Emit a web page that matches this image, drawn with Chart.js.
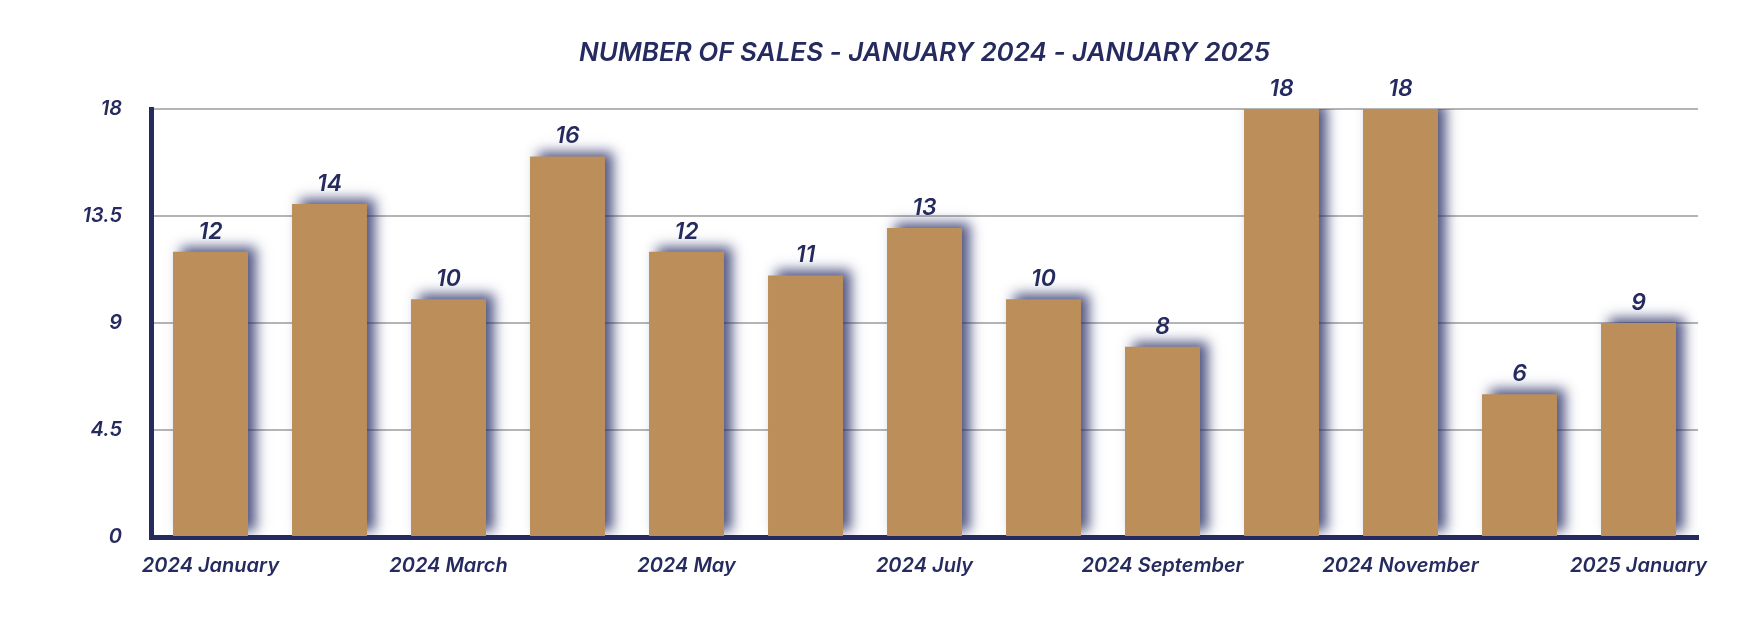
<!DOCTYPE html>
<html>
<head>
<meta charset="utf-8">
<script src="https://cdn.jsdelivr.net/npm/chart.js@4.4.1/dist/chart.umd.min.js"></script>
<style>
  html, body { margin: 0; padding: 0; background: #ffffff; }
  #wrap { width: 1764px; height: 628px; position: relative; }
</style>
</head>
<body>
<div id="wrap"><canvas id="c" width="1764" height="628"></canvas></div>
<script>
const titleText = "NUMBER OF SALES - JANUARY 2024 - JANUARY 2025";
const categories = [
  "2024 January", "2024 February", "2024 March", "2024 April", "2024 May",
  "2024 June", "2024 July", "2024 August", "2024 September", "2024 October",
  "2024 November", "2024 December", "2025 January"
];
const sales = [12, 14, 10, 16, 12, 11, 13, 10, 8, 18, 18, 6, 9];
const yTicks = [0, 4.5, 9, 13.5, 18];

const NAVY = "#262b5f";
const GOLD = "#bc8f5a";
const FONT = "Inter";

const shadowPlugin = {
  id: "barShadow",
  beforeDatasetsDraw(chart) {
    const ctx = chart.ctx;
    ctx.save();
    ctx.shadowColor = "rgba(38, 44, 100, 0.8)";
    ctx.shadowBlur = 12;
    ctx.shadowOffsetX = 8;
    ctx.shadowOffsetY = -5;
  },
  afterDatasetsDraw(chart) {
    chart.ctx.restore();
  }
};

const valueLabelPlugin = {
  id: "valueLabels",
  afterDatasetsDraw(chart) {
    const ctx = chart.ctx;
    const meta = chart.getDatasetMeta(0);
    ctx.save();
    ctx.fillStyle = NAVY;
    ctx.font = "italic 600 23px " + FONT;
    ctx.textAlign = "center";
    ctx.textBaseline = "middle";
    meta.data.forEach((bar, i) => {
      ctx.fillText(String(chart.data.datasets[0].data[i]), bar.x, bar.y - 20);
    });
    ctx.restore();
  }
};

const titlePlugin = {
  id: "centeredTitle",
  afterDraw(chart) {
    const ctx = chart.ctx;
    const a = chart.chartArea;
    ctx.save();
    ctx.fillStyle = NAVY;
    ctx.font = "italic 600 26px " + FONT;
    ctx.textAlign = "center";
    ctx.textBaseline = "middle";
    ctx.fillText(titleText, (a.left + a.right) / 2, 53);
    ctx.restore();
  }
};

new Chart(document.getElementById("c"), {
  type: "bar",
  data: {
    labels: categories,
    datasets: [{
      data: sales,
      backgroundColor: GOLD,
      borderWidth: 0,
      barPercentage: 1,
      categoryPercentage: 0.63
    }]
  },
  options: {
    responsive: false,
    animation: false,
    devicePixelRatio: 1,
    layout: { padding: { top: 109, right: 66, left: 0, bottom: 0 } },
    plugins: {
      legend: { display: false },
      title: { display: false },
      tooltip: { enabled: false }
    },
    scales: {
      x: {
        grid: { display: false, drawTicks: false },
        border: { display: true, color: NAVY, width: 5 },
        ticks: {
          autoSkip: false,
          maxRotation: 0,
          padding: 17,
          color: NAVY,
          font: { family: FONT, size: 20, style: "italic", weight: 600 },
          callback: function (v, i) { return i % 2 === 0 ? categories[i] : ""; }
        },
        afterFit(scale) { scale.height = 91; }
      },
      y: {
        min: yTicks[0],
        max: yTicks[yTicks.length - 1],
        afterBuildTicks(scale) { scale.ticks = yTicks.map(v => ({ value: v })); },
        grid: { color: "#b5b5b5", lineWidth: 2, drawTicks: false },
        border: { display: true, color: NAVY, width: 5 },
        ticks: {
          padding: 29,
          color: NAVY,
          font: { family: FONT, size: 20, style: "italic", weight: 600 }
        },
        afterFit(scale) { scale.width = 151; }
      }
    }
  },
  plugins: [shadowPlugin, valueLabelPlugin, titlePlugin]
});
</script>
</body>
</html>
